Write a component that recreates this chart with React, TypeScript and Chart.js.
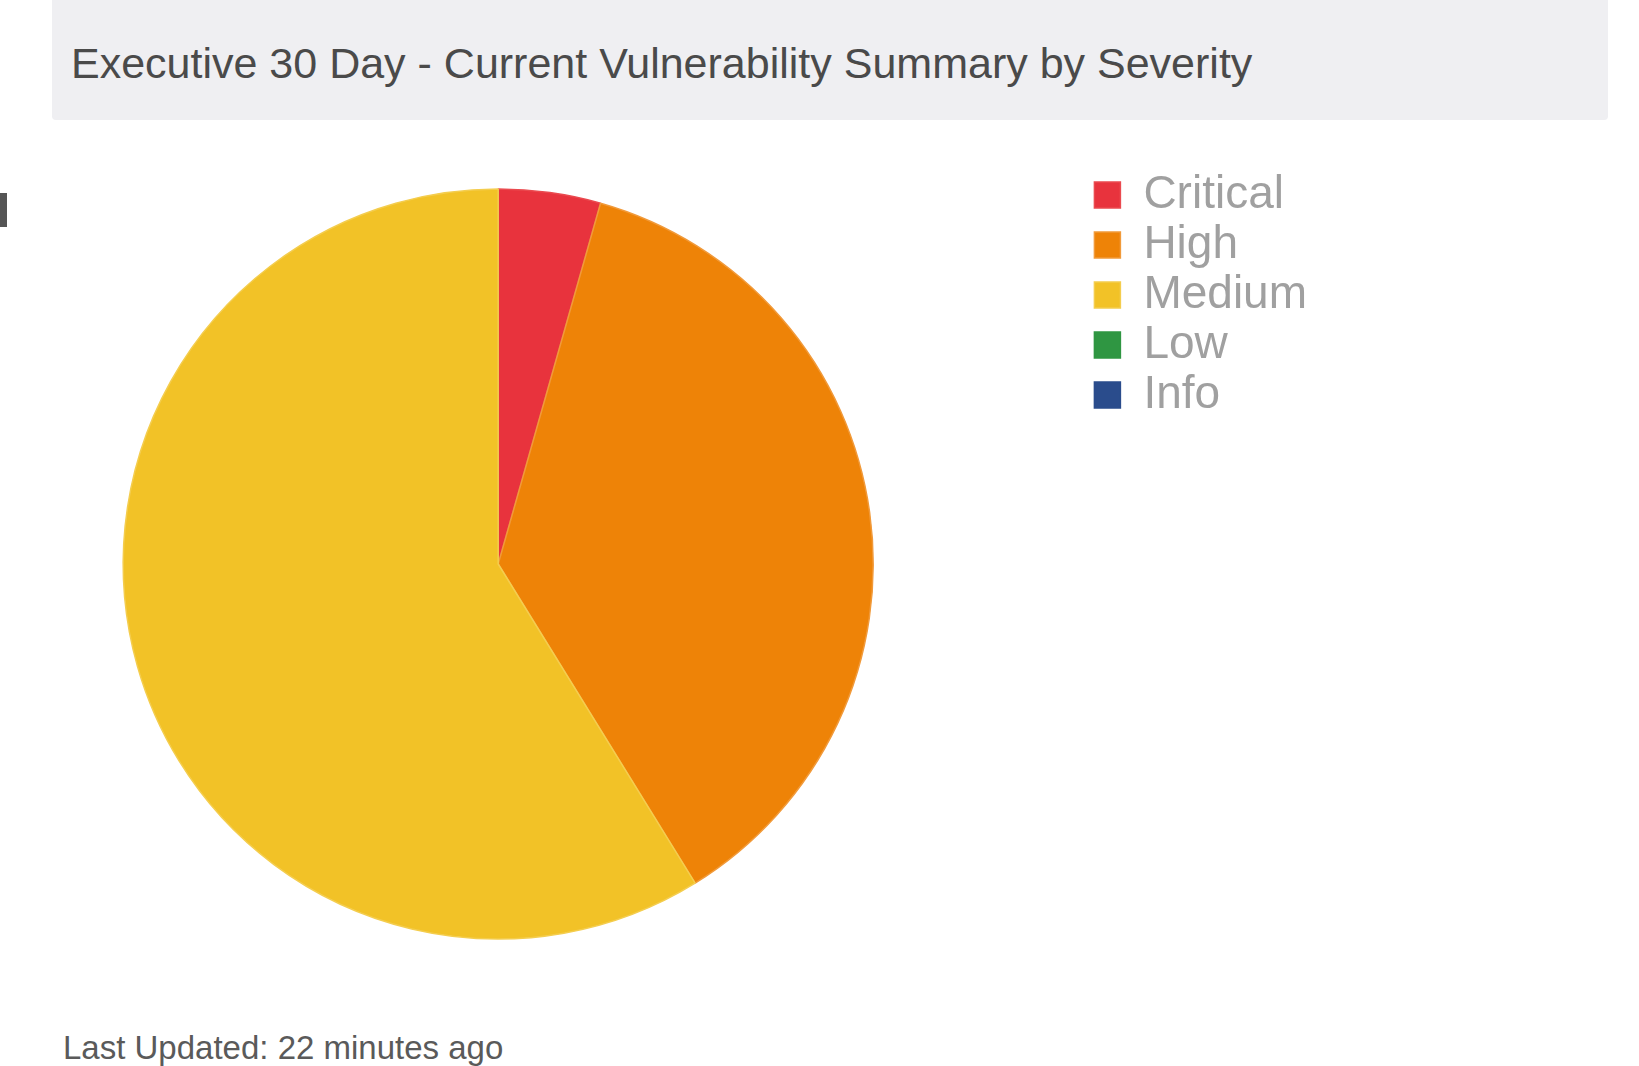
import React, { useEffect, useRef } from "react";
import { Chart, registerables } from "chart.js";

Chart.register(...registerables);

const TITLE = "Executive 30 Day - Current Vulnerability Summary by Severity";
const FOOTER = "Last Updated: 22 minutes ago";
const severities = ["Critical", "High", "Medium", "Low", "Info"];
const counts = [44, 368, 588, 0, 0];
const sliceColors = ["#e8333d", "#ee8307", "#f2c227", "#2f9642", "#2a4c8c"];
const sliceBorders = ["#ea4a4f", "#f19a3a", "#f4cd4e", "#2f9642", "#2a4c8c"];

const FONT = "'Liberation Sans', Arial, Helvetica, sans-serif";

export default function App() {
  const ref = useRef<HTMLCanvasElement | null>(null);

  useEffect(() => {
    if (!ref.current) return;
    const chart = new Chart(ref.current, {
      type: "pie",
      data: {
        labels: severities,
        datasets: [
          {
            data: counts,
            backgroundColor: sliceColors,
            borderColor: sliceBorders,
            borderWidth: 1.5,
            radius: 375,
          } as any,
        ],
      },
      options: {
        responsive: false,
        animation: false,
        layout: { padding: { left: 6, right: 83, top: 0, bottom: 0 } },
        plugins: {
          title: { display: false },
          tooltip: { enabled: false },
          legend: {
            display: true,
            position: "right",
            align: "start",
            labels: {
              boxWidth: 26,
              boxHeight: 26,
              padding: 4,
              color: "#a0a0a0",
              font: { family: FONT, size: 46 },
            },
          },
        },
      },
    });
    return () => chart.destroy();
  }, []);

  return (
    <div
      style={{
        position: "fixed",
        left: 0,
        top: 0,
        width: 1639,
        height: 1066,
        overflow: "hidden",
        background: "#ffffff",
        fontFamily: FONT,
      }}
    >
      <div
        style={{
          position: "absolute",
          left: 52,
          top: 0,
          width: 1556,
          height: 120,
          background: "#efeff2",
          borderRadius: "0 0 4px 4px",
        }}
      />
      <div
        style={{
          position: "absolute",
          left: 71,
          top: 38,
          fontSize: 43,
          lineHeight: "50px",
          color: "#4a4a4a",
          whiteSpace: "nowrap",
        }}
      >
        {TITLE}
      </div>
      <div
        style={{
          position: "absolute",
          left: 0,
          top: 193,
          width: 7,
          height: 34,
          background: "#555555",
        }}
      />
      <canvas
        ref={ref}
        width={1500}
        height={792}
        style={{ position: "absolute", left: -100, top: 168, width: 1500, height: 792 }}
      />
      <div
        style={{
          position: "absolute",
          left: 63,
          top: 1029,
          fontSize: 33,
          lineHeight: "38px",
          color: "#5a5a5a",
          whiteSpace: "nowrap",
        }}
      >
        {FOOTER}
      </div>
    </div>
  );
}
